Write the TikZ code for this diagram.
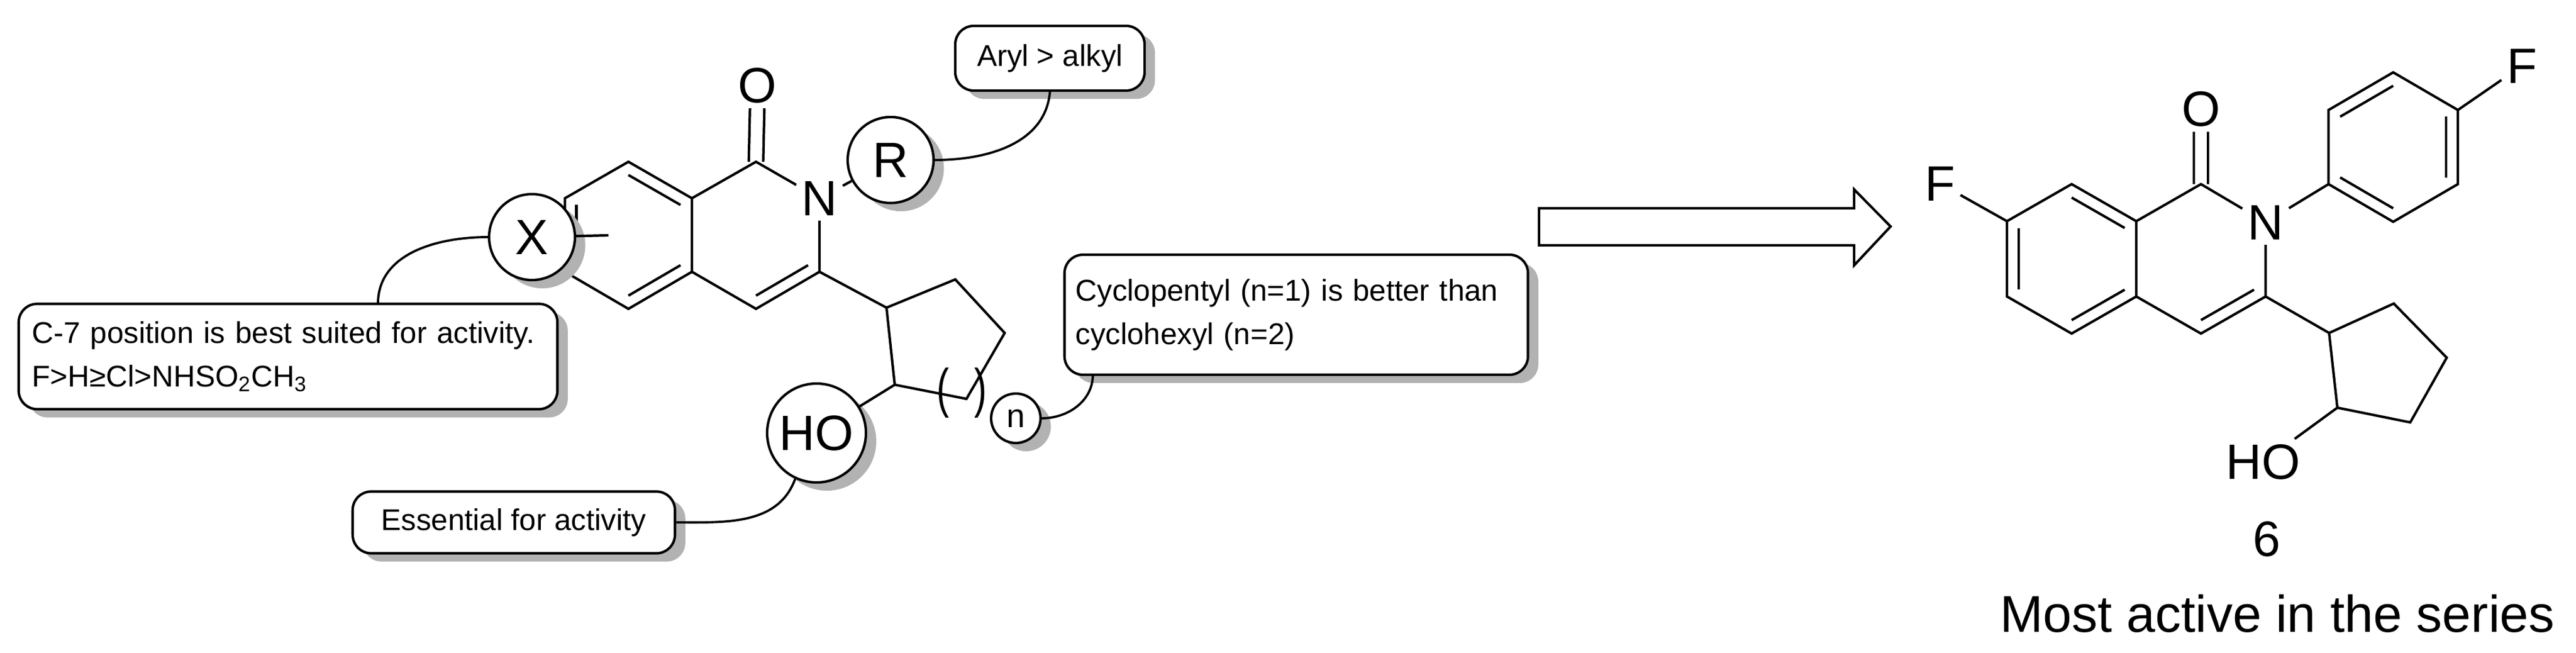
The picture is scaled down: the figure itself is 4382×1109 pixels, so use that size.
\documentclass[tikz,border=0pt]{standalone}
\usepackage{fontspec}
\setmainfont{Liberation Sans}
\usetikzlibrary{calc,shadows}
\newcommand\dbin[3]{\draw ($(#1)!0.18!(#3)$) -- ($(#2)!0.18!(#3)$);}
\begin{document}
\begin{tikzpicture}[x=0.01cm,y=-0.01cm,line width=1.2pt,
  atom/.style={font=\fontsize{24}{28}\selectfont,inner sep=2pt},
  shad/.style={drop shadow={shadow xshift=5pt,shadow yshift=-4pt,fill=black!30,opacity=1}},
  circ/.style={circle,draw,fill=white,shad,inner sep=0pt,font=\fontsize{24}{28}\selectfont},
  box/.style={draw,rounded corners=9pt,fill=white,shad,font=\fontsize{14.5}{21}\selectfont},
  conn/.style={line width=1.1pt}]
\useasboundingbox (0,0) rectangle (4382,1109);
% ---------------- left scaffold ----------------
\coordinate (lc) at (1069,400); \coordinate (rc) at (1286,400);
\coordinate (C8) at (1069,275); \coordinate (C8a) at (1177,337);
\coordinate (C4a) at (1177,462); \coordinate (C5) at (1069,525);
\coordinate (C6) at (961,462); \coordinate (C7) at (961,337);
\coordinate (C1) at (1286,275); \coordinate (C3) at (1394,462);
\coordinate (C4) at (1286,525);
\node[atom] (N) at (1394,337) {N};
\node[atom] (O) at (1288,145) {O};
\draw (C8)--(C8a)--(C4a)--(C5)--(C6)--(C7)--cycle;
\draw (C8a)--(C1)--(N)--(C3)--(C4)--(C4a);
\draw ([xshift=-3.5pt]C1)--([xshift=-3.5pt]O.south);
\draw ([xshift=3.5pt]C1)--([xshift=3.5pt]O.south);
\dbin{C8}{C8a}{lc}\dbin{C4a}{C5}{lc}\dbin{C6}{C7}{lc}\dbin{C3}{C4}{rc}
% cyclopentyl
\coordinate (P1) at (1508,523); \coordinate (P2) at (1625,475);
\coordinate (P3) at (1709,566); \coordinate (P4) at (1644,678);
\coordinate (P5) at (1522,654);
\draw (C3)--(P1);
\draw (P1)--(P2)--(P3)--(P4)--(P5)--cycle;
\node[font=\fontsize{26}{30}\selectfont,xscale=0.7] (brl) at (1604,668) {(};
\node[font=\fontsize{26}{30}\selectfont,xscale=0.7] (brr) at (1668,668) {)};
% circles
\node[circ,minimum size=1.46cm] (R) at (1515,272) {R};
\node[circ,minimum size=1.46cm] (X) at (905,403) {X};
\node[circ,minimum size=1.68cm] (HO) at (1389,736) {HO};
\node[circ,minimum size=0.84cm,font=\fontsize{16}{18}\selectfont] (n) at (1728,711) {n};
\coordinate (Xin) at (1035,400);
\draw (N)--(R); \draw (X)--(Xin); \draw (P5)--(HO);
% boxes
\node[box,minimum width=3.22cm,minimum height=1.10cm] (aryl) at (1786,99) {Aryl > alkyl};
\node[box,text width=8.7cm,align=left,inner xsep=0.23cm,minimum height=1.79cm] (c7) at (490,606)
  {C-7 position is best suited for activity.\\F>H≥Cl>NHSO\textsubscript{2}CH\textsubscript{3}};
\node[box,minimum width=5.48cm,minimum height=1.05cm] (ess) at (874,888) {Essential for activity};
\node[box,text width=7.5cm,align=left,inner xsep=0.19cm,minimum height=2.04cm] (cyc) at (2205,535)
  {Cyclopentyl (n=1) is better than\\cyclohexyl (n=2)};
\coordinate (c7a) at (643,516);
\coordinate (cyca) at (1859,637);
\draw[conn] (aryl.south) to[out=-95,in=0] (R.east);
\draw[conn] (c7a) to[out=90,in=180] (X.west);
\draw[conn] (ess.east) to[out=0,in=-110] (HO.-115);
\draw[conn] (cyca) to[out=-90,in=0] (n.east);
% ---------------- arrow ----------------
\draw (2618,354)--(3154,354)--(3154,322)--(3216,385)--(3154,451)--(3154,417)--(2618,417)--cycle;
% ---------------- compound 6 ----------------
\coordinate (lc2) at (3524,440); \coordinate (rc2) at (3744,440);
\coordinate (D8) at (3524,313); \coordinate (D8a) at (3634,376);
\coordinate (D4a) at (3634,504); \coordinate (D5) at (3524,567);
\coordinate (D6) at (3414,504); \coordinate (D7) at (3414,376);
\coordinate (D1) at (3744,313); \coordinate (D3) at (3854,504);
\coordinate (D4) at (3744,567);
\node[atom] (N2) at (3854,378) {N};
\node[atom] (O2) at (3744,185) {O};
\node[atom] (F1) at (3300,312) {F};
\draw (D8)--(D8a)--(D4a)--(D5)--(D6)--(D7)--cycle;
\draw (D8a)--(D1)--(N2)--(D3)--(D4)--(D4a);
\draw ([xshift=-3.5pt]D1)--([xshift=-3.5pt]O2.south);
\draw ([xshift=3.5pt]D1)--([xshift=3.5pt]O2.south);
\draw (D7)--(F1);
\dbin{D8}{D8a}{lc2}\dbin{D4a}{D5}{lc2}\dbin{D6}{D7}{lc2}\dbin{D3}{D4}{rc2}
% fluorophenyl
\coordinate (pc) at (4071,250);
\coordinate (A1) at (3961,313); \coordinate (A2) at (3961,187);
\coordinate (A3) at (4071,123); \coordinate (A4) at (4181,187);
\coordinate (A5) at (4181,313); \coordinate (A6) at (4071,377);
\node[atom] (F2) at (4290,112) {F};
\draw (A1)--(A2)--(A3)--(A4)--(A5)--(A6)--cycle;
\dbin{A2}{A3}{pc}\dbin{A4}{A5}{pc}\dbin{A6}{A1}{pc}
\draw (N2)--(A1); \draw (A4)--(F2);
% cyclopentyl
\coordinate (Q1) at (3962,566); \coordinate (Q2) at (4072,516);
\coordinate (Q3) at (4162,608); \coordinate (Q4) at (4100,718);
\coordinate (Q5) at (3976,693);
\draw (D3)--(Q1);
\draw (Q1)--(Q2)--(Q3)--(Q4)--(Q5)--cycle;
\node[atom] (HO2) at (3850,785) {HO};
\draw (Q5)--(HO2);
\node[atom] (six) at (3856,916) {6};
\node[atom,font=\fontsize{25}{30}\selectfont] (most) at (3874,1043) {Most active in the series};
\end{tikzpicture}
\end{document}
